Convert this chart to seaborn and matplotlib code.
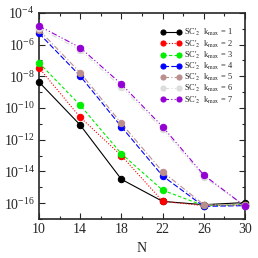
import matplotlib
matplotlib.use("Agg")
import matplotlib.pyplot as plt
import seaborn as sns
import numpy as np
from matplotlib.ticker import FixedLocator, LogFormatterMathtext, NullFormatter

sns.set_style("ticks")
plt.rcParams['font.family'] = ['Liberation Serif', 'DejaVu Serif']
plt.rcParams['mathtext.fontset'] = 'stix'

N = [10, 14, 18, 22, 26, 30]
k1 = [4.4e-9, 8.5e-12, 3.2e-15, 1.3e-16, 8e-17, 1.1e-16]
k2 = [3.5e-8, 2.6e-11, 1.0e-13, 1.3e-16, 7e-17, 8e-17]
k3 = [7.2e-8, 1.5e-10, 1.3e-13, 6.6e-16, 7e-17, 8e-17]
k4 = [5.2e-6, 1.05e-8, 6.6e-12, 5.2e-15, 6.3e-17, 7e-17]
k5 = [8.5e-6, 1.7e-8, 1.07e-11, 9.5e-15, 8e-17, 7.6e-17]
k6 = [1.1e-5, 4.5e-7, 2.1e-9, 4.7e-12, 4.4e-15, 7e-17]
k7 = [1.5e-5, 6.5e-7, 3.2e-9, 6.6e-12, 5.9e-15, 6.3e-17]
series = [k1, k2, k3, k4, k5, k6, k7]
labels = [r"SC$'_2$  k$_{\rm max}$ = %d" % i for i in range(1, 8)]
colors = ["#000000", "#ff0000", "#00ee00", "#0000ff", "#bc8f8f", "#dcdcdc", "#9400d3"]
styles = ["-", (0, (1, 1.5)), (0, (3, 2)), (0, (5, 2)), (0, (5, 2, 1, 2)),
          (0, (5, 2, 1, 2, 1, 2)), (0, (5, 2, 1, 2, 1, 2))]

fig = plt.figure(figsize=(2.58, 2.58), dpi=100)
ax = fig.add_axes([0.151, 0.151, 0.799, 0.799])

for vals, lab, c, ls in zip(series, labels, colors, styles):
    sns.lineplot(x=N, y=vals, ax=ax, color=c, label=lab, marker='o',
                 markersize=4.6, markeredgecolor=c, linewidth=0.8, linestyle=ls,
                 clip_on=False, zorder=3)

ax.set_yscale('log')
ax.set_xlim(10, 30)
ax.set_ylim(1e-17, 1e-4)
ax.set_xticks([10, 14, 18, 22, 26, 30])
ax.set_xticks([12, 16, 20, 24, 28], minor=True)
ax.yaxis.set_major_locator(FixedLocator([10.0**e for e in range(-16, -3, 2)]))
ax.yaxis.set_major_formatter(LogFormatterMathtext())
ax.yaxis.set_minor_locator(FixedLocator([10.0**e for e in range(-17, -4, 2)]))
ax.yaxis.set_minor_formatter(NullFormatter())
ax.tick_params(which='both', direction='in', top=True, right=True, labelsize=10,
               width=0.8, pad=3)
ax.tick_params(which='major', length=4)
ax.tick_params(which='minor', length=2.5)
for s in ax.spines.values():
    s.set_linewidth(1.2)
ax.set_xlabel("N", fontsize=10)
ax.set_ylabel("")

leg = ax.legend(loc='upper right', bbox_to_anchor=(0.965, 0.955), frameon=False,
                fontsize=6, numpoints=2, handlelength=2.5, labelspacing=0.0,
                handletextpad=0.3, borderaxespad=0.2, markerscale=0.8)

fig.savefig("out.png", dpi=100)
